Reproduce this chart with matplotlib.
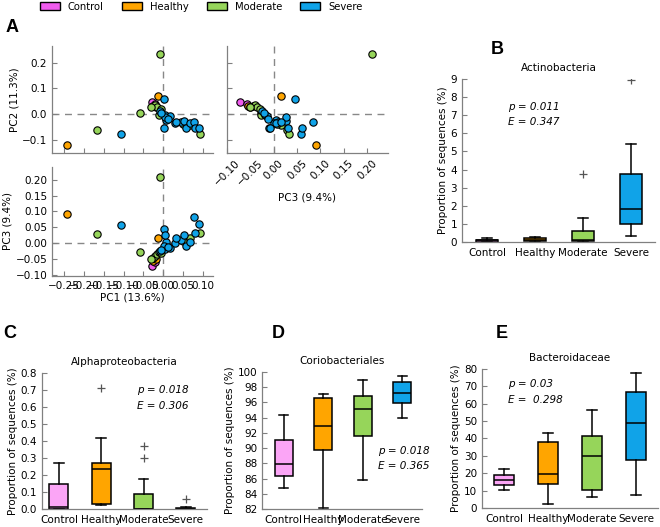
import matplotlib
matplotlib.use('Agg')
import matplotlib.pyplot as plt
from matplotlib.patches import Patch
import numpy as np

plt.rcParams['font.family'] = ['DejaVu Sans']
plt.rcParams['axes.unicode_minus'] = True

# ---------------- data ----------------
groups = ['Control', 'Healthy', 'Moderate', 'Severe']
scatter_colors = ['#F05CEE', '#FFA500', '#96D55A', '#10A3E8']
box_colors = ['#FBA5F6', '#FFA500', '#96D55A', '#10A3E8']

# PCA coordinates (PC1, PC2, PC3) per group
control_pc1 = [-0.028, -0.020]
control_pc2 = [0.045, 0.038]
control_pc3 = [-0.073, -0.058]

healthy_pc1 = [-0.243, -0.013, -0.027, -0.018]
healthy_pc2 = [-0.121, 0.070, 0.031, 0.026]
healthy_pc3 = [0.091, 0.016, -0.055, -0.050]

moderate_pc1 = [-0.166, -0.059, -0.009, 0.0925, 0.066, -0.025, -0.021, -0.016, -0.012, -0.006, 0.050, -0.030]
moderate_pc2 = [-0.062, 0.003, 0.234, -0.078, -0.044, 0.032, 0.036, 0.026, -0.003, 0.018, -0.040, 0.028]
moderate_pc3 = [0.028, -0.027, 0.210, 0.033, 0.016, -0.045, -0.040, -0.035, -0.028, -0.030, 0.008, -0.050]

severe_pc1 = [-0.1075, 0.001, -0.008, 0.004, 0.007, 0.003, 0.016, 0.029, 0.044, 0.051,
              0.057, 0.067, 0.076, 0.080, 0.091, 0.005, 0.031, -0.005, 0.012]
severe_pc2 = [-0.079, 0.057, 0.012, -0.004, -0.023, -0.053, -0.006, -0.036, -0.030, -0.026,
              -0.053, -0.034, -0.032, -0.056, -0.056, -0.010, -0.030, 0.005, -0.020]
severe_pc3 = [0.058, 0.045, -0.025, -0.018, 0.005, -0.010, -0.015, 0.000, 0.010, 0.026,
              -0.008, 0.005, 0.084, 0.031, 0.061, 0.026, 0.015, -0.020, -0.012]

# Box plot summaries: Control, Healthy, Moderate, Severe
actino_q1 = [0.02, 0.05, 0.05, 0.98]
actino_med = [0.09, 0.13, 0.11, 1.82]
actino_q3 = [0.13, 0.20, 0.61, 3.74]
actino_lo = [0.0, 0.0, 0.0, 0.35]
actino_hi = [0.22, 0.28, 1.34, 5.40]
actino_fliers = [[], [], [3.75], [8.93]]

alpha_q1 = [0.0, 0.03, 0.0, 0.0]
alpha_med = [0.01, 0.235, 0.0, 0.0]
alpha_q3 = [0.145, 0.27, 0.09, 0.004]
alpha_lo = [0.0, 0.025, 0.0, 0.0]
alpha_hi = [0.27, 0.42, 0.175, 0.01]
alpha_fliers = [[], [0.71], [0.30, 0.37], [0.06]]

corio_q1 = [86.3, 89.7, 91.6, 95.9]
corio_med = [87.9, 92.9, 95.07, 97.3]
corio_q3 = [91.1, 96.6, 96.8, 98.7]
corio_lo = [84.7, 82.1, 85.8, 94.0]
corio_hi = [94.3, 97.1, 99.0, 99.5]
corio_fliers = [[], [], [], []]

bact_q1 = [13.4, 13.8, 10.3, 27.6]
bact_med = [16.3, 19.5, 29.7, 49.0]
bact_q3 = [19.1, 37.7, 41.5, 66.6]
bact_lo = [10.5, 2.3, 6.1, 7.7]
bact_hi = [22.6, 43.4, 56.5, 77.5]
bact_fliers = [[], [], [], []]

# ---------------- figure ----------------
fig = plt.figure(figsize=(6.6, 5.27), dpi=100)

SP = '#808080'
TICK_FS = 7.5


def style_axes(ax):
    for s in ['top', 'right']:
        ax.spines[s].set_visible(False)
    for s in ['left', 'bottom']:
        ax.spines[s].set_color(SP)
        ax.spines[s].set_linewidth(0.9)
    ax.tick_params(direction='in', length=3.5, color=SP, labelsize=TICK_FS, width=0.8)


pcs = [
    (control_pc1, control_pc2, control_pc3),
    (healthy_pc1, healthy_pc2, healthy_pc3),
    (moderate_pc1, moderate_pc2, moderate_pc3),
    (severe_pc1, severe_pc2, severe_pc3),
]

axA1 = fig.add_axes([0.0788, 0.7097, 0.2439, 0.2030])
axA2 = fig.add_axes([0.3435, 0.7097, 0.2444, 0.2030])
axA3 = fig.add_axes([0.0788, 0.4763, 0.2439, 0.2068])

for ax, (ix, iy) in zip([axA1, axA2, axA3], [(0, 1), (2, 1), (0, 2)]):
    style_axes(ax)
    ax.axhline(0, ls='--', color='#888888', lw=1.0, dashes=(5, 4), zorder=1)
    ax.axvline(0, ls='--', color='#888888', lw=1.0, dashes=(5, 4), zorder=1)
    for (p, c) in zip(pcs, scatter_colors):
        ax.scatter(p[ix], p[iy], s=28, c=c, edgecolors='black', linewidths=0.8, zorder=3)

pc1_ticks = np.round(np.arange(-0.25, 0.101, 0.05), 2)
axA1.set_xlim(-0.28, 0.125)
axA1.set_ylim(-0.152, 0.265)
axA1.set_xticks(pc1_ticks)
axA1.set_xticklabels([])
axA1.set_yticks([-0.1, 0.0, 0.1, 0.2])
axA1.set_ylabel('PC2 (11.3%)', fontsize=7.5, labelpad=2)

axA2.set_xlim(-0.1005, 0.245)
axA2.set_ylim(-0.152, 0.265)
axA2.set_xticks(np.round(np.arange(-0.10, 0.201, 0.05), 2))
axA2.set_yticks([-0.1, 0.0, 0.1, 0.2])
axA2.set_yticklabels([])
for lab in axA2.get_xticklabels():
    lab.set_rotation(45)
axA2.set_xlabel('PC3 (9.4%)', fontsize=7.5, labelpad=4)

axA3.set_xlim(-0.28, 0.125)
axA3.set_ylim(-0.103, 0.24)
axA3.set_xticks(pc1_ticks)
axA3.set_yticks(np.round(np.arange(-0.10, 0.201, 0.05), 2))
axA3.set_xlabel('PC1 (13.6%)', fontsize=7.5, labelpad=1)
axA3.set_ylabel('PC3 (9.4%)', fontsize=7.5, labelpad=2)


def box_panel(rect, q1, med, q3, lo, hi, fliers, title, ylim, yticks, xlim, ptxt, etxt, pxy, exy):
    ax = fig.add_axes(rect)
    style_axes(ax)
    stats = [dict(med=m, q1=a, q3=b, whislo=l, whishi=h, fliers=f, label=g)
             for a, m, b, l, h, f, g in zip(q1, med, q3, lo, hi, fliers, groups)]
    bp = ax.bxp(stats, positions=range(4), widths=0.45, patch_artist=True,
                boxprops=dict(edgecolor='black', linewidth=1.1),
                medianprops=dict(color='black', linewidth=1.1),
                whiskerprops=dict(color='black', linewidth=1.1),
                capprops=dict(color='black', linewidth=1.1),
                flierprops=dict(marker='+', markeredgecolor='#555555', markersize=6,
                                markeredgewidth=0.9))
    for patch, c in zip(bp['boxes'], box_colors):
        patch.set_facecolor(c)
    ax.set_xlim(*xlim)
    ax.set_ylim(*ylim)
    ax.set_yticks(yticks)
    ax.tick_params(axis='x', length=0, pad=4)
    ax.set_title(title, fontsize=7.5, pad=6)
    ax.set_ylabel('Proportion of sequences (%)', fontsize=7.5, labelpad=2)
    ax.text(pxy[0], pxy[1], ptxt, transform=ax.transAxes, fontsize=7.5, style='italic', va='center')
    ax.text(exy[0], exy[1], etxt, transform=ax.transAxes, fontsize=7.5, style='italic', va='center')
    return ax


box_panel([0.700, 0.5408, 0.2924, 0.3093], actino_q1, actino_med, actino_q3, actino_lo, actino_hi,
          actino_fliers, 'Actinobacteria', (0, 9), range(0, 10), (-0.52, 3.5),
          'p = 0.011', 'E = 0.347', (0.238, 0.828), (0.238, 0.736))
box_panel([0.0636, 0.0342, 0.2500, 0.2580], alpha_q1, alpha_med, alpha_q3, alpha_lo, alpha_hi,
          alpha_fliers, 'Alphaproteobacteria', (0, 0.8), np.round(np.arange(0, 0.81, 0.1), 1),
          (-0.4, 3.5), 'p = 0.018', 'E = 0.306', (0.576, 0.875), (0.576, 0.757))
box_panel([0.397, 0.0342, 0.2424, 0.2600], corio_q1, corio_med, corio_q3, corio_lo, corio_hi,
          corio_fliers, 'Coriobacteriales', (82, 100), range(82, 101, 2),
          (-0.55, 3.5), 'p = 0.018', 'E = 0.365', (0.728, 0.423), (0.728, 0.314))
box_panel([0.7303, 0.0361, 0.2667, 0.2638], bact_q1, bact_med, bact_q3, bact_lo, bact_hi,
          bact_fliers, 'Bacteroidaceae', (0, 80), range(0, 81, 10),
          (-0.5, 3.5), 'p = 0.03', 'E =  0.298', (0.148, 0.892), (0.148, 0.777))

# legend
handles = [Patch(facecolor=c, edgecolor='black', linewidth=1.0) for c in scatter_colors]
fig.legend(handles, groups, loc='center left', bbox_to_anchor=(40 / 660, 1 - 6.5 / 527), ncol=4,
           frameon=False, fontsize=7.2, handlelength=2.0, handleheight=0.75, handletextpad=0.8,
           columnspacing=1.8, borderaxespad=0, borderpad=0)

# panel letters
for letter, (x, y) in zip('ABCDE', [(12, 28), (497, 50), (10, 334), (278, 334), (502, 334)]):
    fig.text(x / 660, 1 - y / 527, letter, fontsize=13, fontweight='bold',
             family=['Liberation Sans', 'DejaVu Sans'], ha='center', va='center')

fig.savefig('out.png', dpi=100)
